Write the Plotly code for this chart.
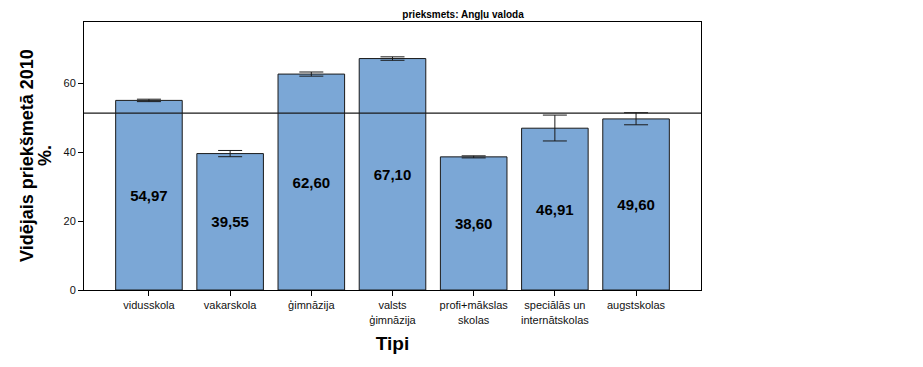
import plotly.graph_objects as go

categories = ["vidusskola", "vakarskola", "ģimnāzija", "valsts<br>ģimnāzija",
              "profi+mākslas<br>skolas", "speciālās un<br>internātskolas", "augstskolas"]
values = [54.97, 39.55, 62.60, 67.10, 38.60, 46.91, 49.60]
err_plus = [0.35, 0.9, 0.6, 0.5, 0.3, 3.8, 1.8]
err_minus = [0.35, 0.9, 0.6, 0.5, 0.3, 3.7, 1.7]
labels = ["54,97", "39,55", "62,60", "67,10", "38,60", "46,91", "49,60"]
ytitle_lines = ["Vidējais priekšmetā 2010", "%."]
ref_value = 51.3

FONT = "Liberation Sans, Arial, sans-serif"
L, R, T, B = 76, 230, 14, 85
PW = 923 - L - R

fig = go.Figure()
fig.add_trace(go.Bar(
    x=list(range(len(categories))),
    y=values,
    width=0.82,
    marker=dict(color="#7BA7D6", line=dict(color="#1a1a1a", width=1)),
    error_y=dict(type="data", symmetric=False, array=err_plus, arrayminus=err_minus,
                 color="#1a1a1a", thickness=1, width=12),
    text=[f"<b>{t}</b>" for t in labels],
    textposition="inside",
    insidetextanchor="middle",
    textangle=0,
    textfont=dict(family=FONT, size=15, color="#000000"),
    hoverinfo="skip",
))

fig.add_shape(type="line", xref="paper", yref="y", x0=0, x1=1, y0=ref_value, y1=ref_value,
              line=dict(color="#1a1a1a", width=1.2))

# y-axis title, two rotated lines
for line_text, px in zip(ytitle_lines, [19, 37]):
    fig.add_annotation(text=f"<b>{line_text}</b>", xref="paper", yref="paper",
                       x=(px - L) / PW, y=0.5, xanchor="center", yanchor="middle",
                       textangle=-90, showarrow=False,
                       font=dict(family=FONT, size=18, color="#000"))

fig.update_layout(
    width=923, height=367,
    margin=dict(l=L, r=R, t=T, b=B),
    paper_bgcolor="white", plot_bgcolor="white",
    showlegend=False,
    font=dict(family=FONT, color="#000"),
    title=dict(text="<b>prieksmets: Angļu valoda</b>", x=0.493, xref="container",
               xanchor="center", y=0.993, yanchor="top",
               font=dict(family=FONT, size=10, color="#000")),
)

fig.update_xaxes(
    range=[-0.8, 6.8],
    tickmode="array", tickvals=list(range(len(categories))), ticktext=categories,
    ticks="outside", ticklen=5, tickcolor="#000",
    tickfont=dict(family=FONT, size=11, color="#111"),
    showline=True, linecolor="#000", linewidth=1, mirror=True,
    showgrid=False, zeroline=False, automargin=False,
    title=dict(text="<b>Tipi</b>", font=dict(family=FONT, size=19, color="#000"), standoff=12),
)
fig.update_yaxes(
    range=[0, 77.7],
    tickvals=[0, 20, 40, 60],
    ticks="outside", ticklen=5, tickcolor="#000",
    tickfont=dict(family=FONT, size=11, color="#111"),
    showline=True, linecolor="#000", linewidth=1, mirror=True,
    showgrid=False, zeroline=False, automargin=False,
)

fig.write_html("out.html")
